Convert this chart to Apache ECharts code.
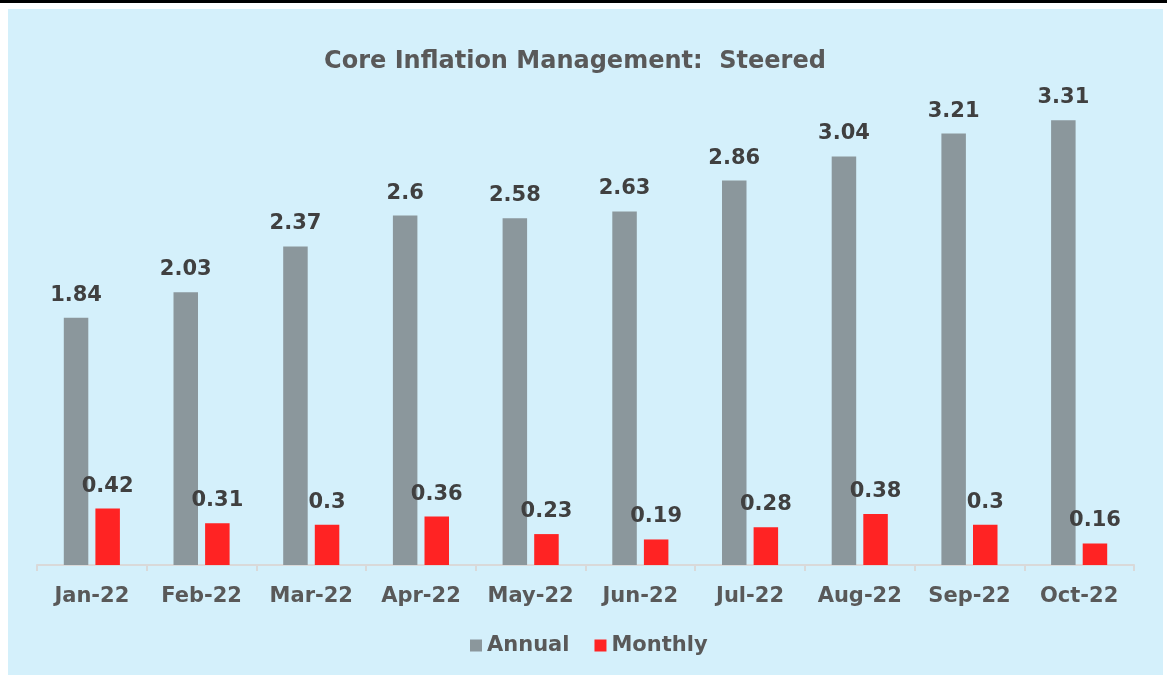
<!DOCTYPE html>
<html>
<head>
<meta charset="utf-8">
<title>Core Inflation Management</title>
<script src="https://cdn.jsdelivr.net/npm/echarts@6/dist/echarts.min.js"></script>
<style>
  html, body { margin: 0; padding: 0; background: #ffffff; width: 1167px; height: 675px; overflow: hidden; }
  #topline { position: absolute; left: 0; top: 0; width: 1167px; height: 3px; background: #000; }
  #chart { position: absolute; left: 8px; top: 9px; width: 1155px; height: 666px; background: #d4f0fb; }
</style>
</head>
<body>
<div id="topline"></div>
<div id="chart"></div>
<script>
// months on the x axis
const months = ["Jan-22", "Feb-22", "Mar-22", "Apr-22", "May-22", "Jun-22", "Jul-22", "Aug-22", "Sep-22", "Oct-22"];
// year-on-year core inflation
const annual = [1.84, 2.03, 2.37, 2.6, 2.58, 2.63, 2.86, 3.04, 3.21, 3.31];
// month-on-month core inflation
const monthly = [0.42, 0.31, 0.3, 0.36, 0.23, 0.19, 0.28, 0.38, 0.3, 0.16];

const font = "'DejaVu Sans', sans-serif";
const chart = echarts.init(document.getElementById("chart"));

const labelStyle = {
  show: true,
  position: "top",
  distance: 12,
  color: "#404040",
  fontFamily: font,
  fontWeight: "bold",
  fontSize: 21
};

chart.setOption({
  animation: false,
  title: {
    text: "Core Inflation Management:  Steered",
    left: 562,
    textAlign: "center",
    top: 36,
    textStyle: { fontFamily: font, fontWeight: "bold", fontSize: 24, color: "#595959" }
  },
  legend: {
    data: ["Annual", "Monthly"],
    left: 457,
    top: 621,
    itemWidth: 12,
    itemHeight: 12,
    itemGap: 25,
    icon: "rect",
    textStyle: { fontFamily: font, fontWeight: "bold", fontSize: 21, color: "#595959" }
  },
  grid: { left: 29, right: 29, top: 18.4, bottom: 110 },
  xAxis: {
    type: "category",
    data: months,
    axisLine: { lineStyle: { color: "#d9d9d9", width: 2 } },
    axisTick: { show: true, length: 6, lineStyle: { color: "#d9d9d9", width: 2 } },
    axisLabel: { interval: 0, margin: 21, fontFamily: font, fontWeight: "bold", fontSize: 21, color: "#595959" }
  },
  yAxis: {
    type: "value",
    min: 0,
    max: 4,
    show: false,
    splitLine: { show: false }
  },
  series: [
    {
      name: "Annual",
      type: "bar",
      data: annual,
      barWidth: 24.5,
      barGap: "29%",
      itemStyle: { color: "#8b979c" },
      label: labelStyle
    },
    {
      name: "Monthly",
      type: "bar",
      data: monthly,
      barWidth: 24.5,
      itemStyle: { color: "#ff2323" },
      label: labelStyle
    }
  ]
});
</script>
</body>
</html>
